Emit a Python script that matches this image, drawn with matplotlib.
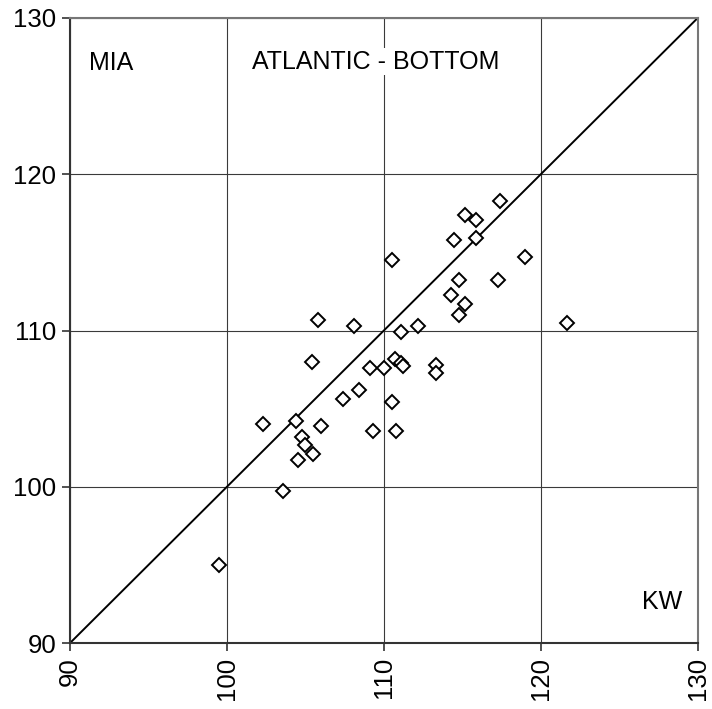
import matplotlib
matplotlib.use('Agg')
import matplotlib.pyplot as plt

plt.rcParams['font.family'] = ['Liberation Sans', 'DejaVu Sans']

# KW (x) vs MIA (y)
kw = [99.5, 102.3, 103.6, 104.4, 104.5, 104.8, 105.0, 105.4, 105.5, 105.8,
      106.0, 107.4, 108.1, 108.4, 109.1, 109.3, 110.0, 110.5, 110.5, 110.7,
      110.8, 111.1, 111.1, 111.2, 112.2, 113.3, 113.3, 114.3, 114.5, 114.8,
      114.8, 115.2, 115.2, 115.9, 115.9, 117.3, 117.4, 119.0, 121.7]
mia = [95.0, 104.0, 99.7, 104.2, 101.7, 103.2, 102.7, 108.0, 102.1, 110.7,
       103.9, 105.6, 110.3, 106.2, 107.6, 103.6, 107.6, 105.4, 114.5, 108.2,
       103.6, 109.9, 107.9, 107.7, 110.3, 107.8, 107.3, 112.3, 115.8, 113.2,
       111.0, 117.4, 111.7, 117.1, 115.9, 113.2, 118.3, 114.7, 110.5]
ticks = [90, 100, 110, 120, 130]

fig = plt.figure(figsize=(7.12, 7.09), dpi=100)
ax = fig.add_axes([0.0983, 0.093, 0.8817, 0.8817])

ax.set_xlim(90, 130)
ax.set_ylim(90, 130)
ax.set_xticks(ticks)
ax.set_yticks(ticks)
ax.grid(True, color='#3a3a3a', linewidth=0.8)
ax.set_axisbelow(True)

ax.plot([90, 130], [90, 130], color='black', linewidth=1.4, zorder=2)
ax.plot(kw, mia, linestyle='none', marker='D', markersize=7.2,
        markerfacecolor='white', markeredgecolor='black', markeredgewidth=1.4,
        zorder=3, clip_on=False)

for s in ['left', 'bottom']:
    ax.spines[s].set_color('#333333')
    ax.spines[s].set_linewidth(1.5)
for s in ['top', 'right']:
    ax.spines[s].set_color('#777777')
    ax.spines[s].set_linewidth(1.5)

ax.tick_params(axis='both', direction='out', length=6, width=1.2,
               color='#333333', labelsize=18.5, pad=4)
ax.tick_params(axis='x', labelrotation=90)

ax.text(91.2, 127.1, 'MIA', fontsize=18, ha='left', va='center')
ax.text(109.5, 127.2, 'ATLANTIC - BOTTOM', fontsize=18, ha='center', va='center',
        bbox=dict(facecolor='white', edgecolor='none', pad=1))
ax.text(127.7, 92.6, 'KW', fontsize=18, ha='center', va='center')

fig.savefig('out.png', dpi=100)
